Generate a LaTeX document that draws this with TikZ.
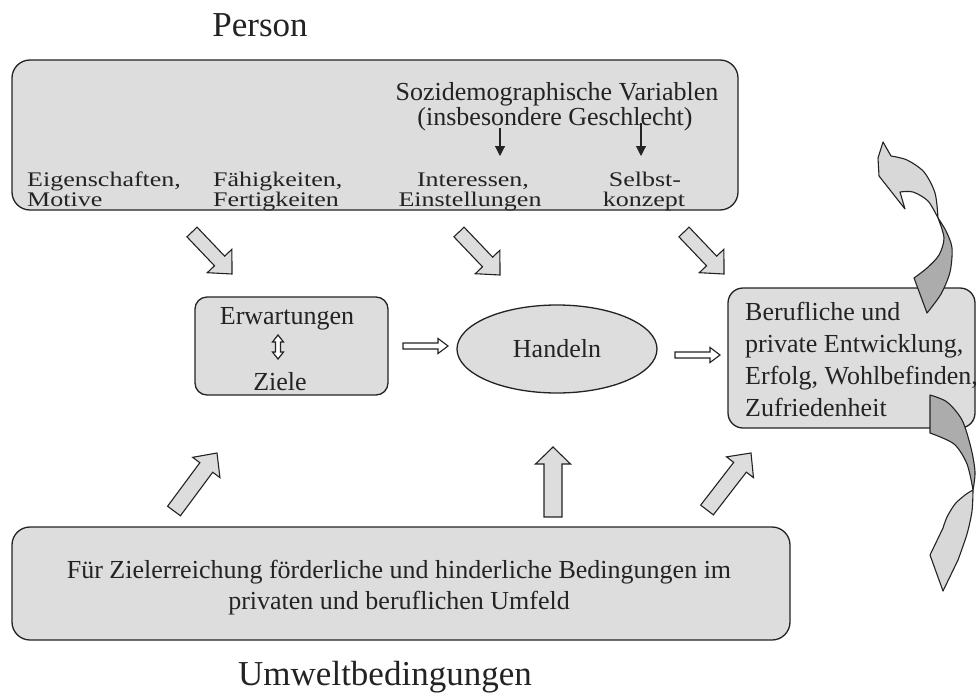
\documentclass[tikz,border=0pt]{standalone}
\usepackage{fontspec}
\setmainfont{Liberation Serif}
\usepackage{graphicx}
\usetikzlibrary{calc,arrows.meta,shapes.geometric}

\definecolor{boxfill}{RGB}{221,221,221}
\definecolor{ink}{RGB}{35,35,35}
\definecolor{ribbonlight}{RGB}{216,216,216}
\definecolor{ribbondark}{RGB}{172,172,172}

% block arrow: [style]{tail}{tip}{shaft half width}{head half width}{head length}
\newcommand\blockarrow[6][]{%
  \coordinate (ba-b) at ($(#3)!#6!(#2)$);
  \filldraw[arrowbody,#1]
    ($(#2)!#4!90:(#3)$) -- ($(ba-b)!#4!90:(#3)$) -- ($(ba-b)!#5!90:(#3)$)
    -- (#3)
    -- ($(ba-b)!#5!-90:(#3)$) -- ($(ba-b)!#4!-90:(#3)$) -- ($(#2)!#4!-90:(#3)$)
    -- cycle;
}

\tikzset{
  box/.style={draw=ink, fill=boxfill, line width=1.3pt, inner sep=0pt},
  arrowbody/.style={draw=ink, fill=boxfill, line width=1.1pt, line join=miter},
  txt/.style={inner sep=0pt, anchor=base, text=ink, font=\fontsize{26}{30}\selectfont},
  ltxt/.style={txt, anchor=base west},
  title/.style={inner sep=0pt, anchor=base, text=ink, font=\fontsize{35}{40}\selectfont},
  pointer/.style={draw=ink, line width=1.1pt, -{Triangle[length=10pt,width=10pt]}},
  ribbon/.style={draw=ink, line width=1.1pt, line join=round}
}

\newcommand\sq[1]{\scalebox{1}[0.8]{#1}}

\begin{document}
\begin{tikzpicture}[x=1pt,y=-1pt]
\useasboundingbox (0,0) rectangle (976,693);

% ---------- person ----------
\node[title] (ttlperson) at (260,37) {Person};
\node[box, rounded corners=18pt, minimum width=726pt, minimum height=150pt] (person) at (375,135) {};

\node[txt] (soz1) at (557,100) {Sozidemographische Variablen};
\node[txt] (soz2) at (555,125) {(insbesondere Geschlecht)};

\node[ltxt] (eig1) at (27,186) {\sq{Eigenschaften,}};
\node[ltxt] (eig2) at (27,206) {\sq{Motive}};
\node[ltxt] (fae1) at (213,186) {\sq{Fähigkeiten,}};
\node[ltxt] (fae2) at (213,206) {\sq{Fertigkeiten}};
\node[txt] (int1) at (473,186) {\sq{Interessen,}};
\node[txt] (int2) at (470,206) {\sq{Einstellungen}};
\node[txt] (sel1) at (645,186) {\sq{Selbst-}};
\node[txt] (sel2) at (644,206) {\sq{konzept}};

\coordinate (soz-a) at (500,128);
\coordinate (int-top) at (500,156);
\coordinate (soz-b) at (641,123);
\coordinate (sel-top) at (641,156);
\draw[pointer] (soz-a) -- (int-top);
\draw[pointer] (soz-b) -- (sel-top);

% ---------- middle row ----------
\node[box, rounded corners=12pt, minimum width=193pt, minimum height=98pt] (erw) at (291.5,346) {};
\node[txt] (erwtxt) at (287,324) {Erwartungen};
\node[txt] (zieltxt) at (280,390) {Ziele};
\filldraw[draw=ink, fill=white, line width=1.2pt]
  (278,335) -- (283.5,342) -- (280.5,342) -- (280.5,352) -- (283.5,352) -- (278,359)
  -- (272.5,352) -- (275.5,352) -- (275.5,342) -- (272.5,342) -- cycle;

\node[draw=ink, fill=boxfill, line width=1.3pt, ellipse, minimum width=200pt, minimum height=88pt,
      inner sep=0pt, text=ink, font=\fontsize{26}{30}\selectfont] (handeln) at (557,349) {Handeln};

\node[box, rounded corners=15pt, minimum width=247pt, minimum height=140pt] (beruf) at (851.5,358) {};
\node[ltxt] (ber1) at (745,320) {Berufliche und};
\node[ltxt] (ber2) at (745,352) {private Entwicklung,};
\node[ltxt] (ber3) at (745,384) {Erfolg, Wohlbefinden,};
\node[ltxt] (ber4) at (745,416) {Zufriedenheit};

\coordinate (ea-s) at (403,346);
\coordinate (ea-e) at (448,346);
\blockarrow[fill=white]{ea-s}{ea-e}{3pt}{7.5pt}{10pt}
\coordinate (ha-s) at (675,355);
\coordinate (ha-e) at (720,355);
\blockarrow[fill=white]{ha-s}{ha-e}{3pt}{7.5pt}{10pt}

% ---------- arrows from the person ----------
\coordinate (pa1) at (192,232);  \coordinate (pa1e) at (232,274);
\coordinate (pa2) at (459,232);  \coordinate (pa2e) at (500,275);
\coordinate (pa3) at (684,232);  \coordinate (pa3e) at (724,274);
\blockarrow{pa1}{pa1e}{7pt}{17pt}{18pt}
\blockarrow{pa2}{pa2e}{7pt}{17pt}{18pt}
\blockarrow{pa3}{pa3e}{7pt}{17pt}{18pt}

% ---------- environment ----------
\node[box, rounded corners=18pt, minimum width=778pt, minimum height=113pt] (umfeld) at (401,583.5) {};
\node[txt] (umf1) at (399,578) {Für Zielerreichung förderliche und hinderliche Bedingungen im};
\node[txt] (umf2) at (399,609) {privaten und beruflichen Umfeld};
\node[title] (ttlumwelt) at (385,685) {Umweltbedingungen};

\coordinate (ua1) at (174,511);  \coordinate (ua1e) at (217,453);
\coordinate (ua2) at (553,517);  \coordinate (ua2e) at (553,447);
\coordinate (ua3) at (707,510);  \coordinate (ua3e) at (751,453);
\blockarrow{ua1}{ua1e}{8pt}{17pt}{18pt}
\blockarrow{ua2}{ua2e}{9pt}{17.5pt}{17pt}
\blockarrow{ua3}{ua3e}{8pt}{17pt}{18pt}

% ---------- feedback ribbons ----------
% upper ribbon: back part
\filldraw[ribbon, fill=ribbondark]
  plot[smooth] coordinates {(938,218) (946,231) (952,248) (950,272) (941,294) (927,313)}
  -- plot[smooth] coordinates {(914,278) (927,268) (939,255) (944,238) (938,218)}
  -- cycle;
% upper ribbon: front part with head
\filldraw[ribbon, fill=ribbonlight]
  plot[smooth] coordinates {(938,218) (935,193) (924,172) (907,160) (891,156)}
  -- (883,142) -- (878,158) -- (879,176) -- (905,209) -- (900,192)
  -- plot[smooth] coordinates {(900,192) (913,192) (928,201) (938,218)}
  -- cycle;
% lower ribbon: back part
\filldraw[ribbon, fill=ribbondark]
  plot[smooth] coordinates {(930,395) (947,402) (962,420) (971,448) (975,472) (973,490)}
  -- plot[smooth] coordinates {(973,490) (967,464) (954,444) (930,433)}
  -- cycle;
% lower ribbon: front part with head
\filldraw[ribbon, fill=ribbonlight]
  plot[smooth] coordinates {(973,490) (972,511) (967,534) (958,560)}
  -- (943,591) -- (930,555) -- (943,528)
  -- plot[smooth] coordinates {(943,528) (947,517) (955,504) (965,495) (973,490)}
  -- cycle;

\end{tikzpicture}
\end{document}
